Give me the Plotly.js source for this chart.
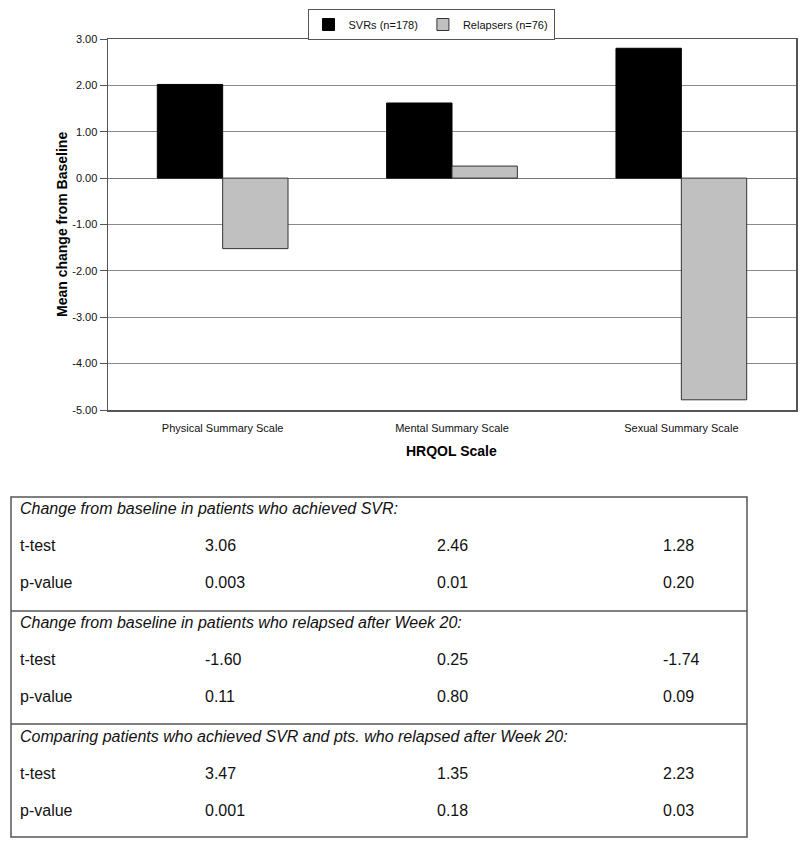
<!DOCTYPE html>
<html>
<head>
<meta charset="utf-8">
<script src="https://cdn.plot.ly/plotly-3.0.1.min.js"></script>
<style>
  body { margin: 0; background: #fff; }
  #chart { width: 800px; height: 846px; }
</style>
</head>
<body>
<div id="chart"></div>
<script>
// chart data
const scales = ["Physical Summary Scale", "Mental Summary Scale", "Sexual Summary Scale"];
const svrValues = [2.02, 1.62, 2.80];
const relapserValues = [-1.52, 0.26, -4.78];
const yTicks = [3, 2, 1, 0, -1, -2, -3, -4, -5];

// table below the chart
const sectionTitles = [
  "Change from baseline in patients who achieved SVR:",
  "Change from baseline in patients who relapsed after Week 20:",
  "Comparing patients who achieved SVR and pts. who relapsed after Week 20:"
];
const rowLabels = ["t-test", "p-value"];
const tTests = [["3.06", "2.46", "1.28"], ["-1.60", "0.25", "-1.74"], ["3.47", "1.35", "2.23"]];
const pValues = [["0.003", "0.01", "0.20"], ["0.11", "0.80", "0.09"], ["0.001", "0.18", "0.03"]];

const W = 800, H = 846;
const px = x => x / W;
const py = y => 1 - y / H;
const font = "Liberation Sans, Arial, sans-serif";
const tableFont = { size: 16, color: "#111" };

const traces = [
  {
    type: "bar", name: "SVRs (n=178)", x: scales, y: svrValues,
    marker: { color: "#000000", line: { color: "#000000", width: 1 } }
  },
  {
    type: "bar", name: "Relapsers (n=76)", x: scales, y: relapserValues,
    marker: { color: "#c0c0c0", line: { color: "#333333", width: 1 } }
  }
];

const annotations = [
  { text: "<b>Mean change from Baseline</b>", x: px(62), y: py(225), xref: "paper", yref: "paper",
    xanchor: "center", yanchor: "middle",
    textangle: -90, showarrow: false, font: { size: 14, color: "#000" } },
  { text: "<b>HRQOL Scale</b>", x: px(452), y: py(451), xref: "paper", yref: "paper",
    xanchor: "center", yanchor: "middle",
    showarrow: false, font: { size: 14, color: "#000" } }
];

const shapes = [
  { type: "rect", xref: "paper", yref: "paper", x0: px(11), x1: px(747), y0: py(497), y1: py(837),
    line: { color: "#555", width: 1.5 } },
  { type: "line", xref: "paper", yref: "paper", x0: px(11), x1: px(747), y0: py(611), y1: py(611),
    line: { color: "#555", width: 1.5 } },
  { type: "line", xref: "paper", yref: "paper", x0: px(11), x1: px(747), y0: py(724), y1: py(724),
    line: { color: "#555", width: 1.5 } }
];

// table text
const colX = [203, 435, 661];
function cell(text, x, y) {
  annotations.push({ text: text, x: px(x), y: py(y), xref: "paper", yref: "paper",
    xanchor: "left", yanchor: "middle", showarrow: false, font: tableFont });
}
sectionTitles.forEach((title, s) => {
  const top = 508 + s * 114;
  cell("<i>" + title + "</i>", 18, top);
  [tTests[s], pValues[s]].forEach((vals, r) => {
    const yy = top + 37 * (r + 1);
    cell(rowLabels[r], 18, yy);
    vals.forEach((v, c) => cell(v, colX[c], yy));
  });
});

const layout = {
  width: W, height: H,
  margin: { l: 0, r: 0, t: 0, b: 0 },
  paper_bgcolor: "#fff", plot_bgcolor: "#fff",
  font: { family: font, color: "#111", size: 11 },
  barmode: "group", bargap: 0.43, bargroupgap: 0,
  showlegend: true,
  legend: {
    orientation: "h", x: px(431), y: py(9), xanchor: "center", yanchor: "top",
    bordercolor: "#555", borderwidth: 1, font: { size: 11 }, itemwidth: 30,
    traceorder: "normal"
  },
  xaxis: {
    domain: [px(108), px(796)],
    showline: true, linecolor: "#555", linewidth: 1.5, mirror: true,
    ticks: "", showgrid: false, tickfont: { size: 11 }, ticklabelstandoff: 7
  },
  yaxis: {
    domain: [py(410), py(39)],
    range: [-5, 3], tickvals: yTicks, ticktext: yTicks.map(v => v.toFixed(2)),
    showline: true, linecolor: "#555", linewidth: 1.5, mirror: true,
    ticks: "outside", ticklen: 7, tickcolor: "#555",
    showgrid: true, gridcolor: "#8a8a8a", gridwidth: 1,
    zeroline: true, zerolinecolor: "#777", zerolinewidth: 1,
    tickfont: { size: 11 }
  },
  annotations: annotations,
  shapes: shapes
};

Plotly.newPlot("chart", traces, layout, { displayModeBar: false, staticPlot: true });
</script>
</body>
</html>
